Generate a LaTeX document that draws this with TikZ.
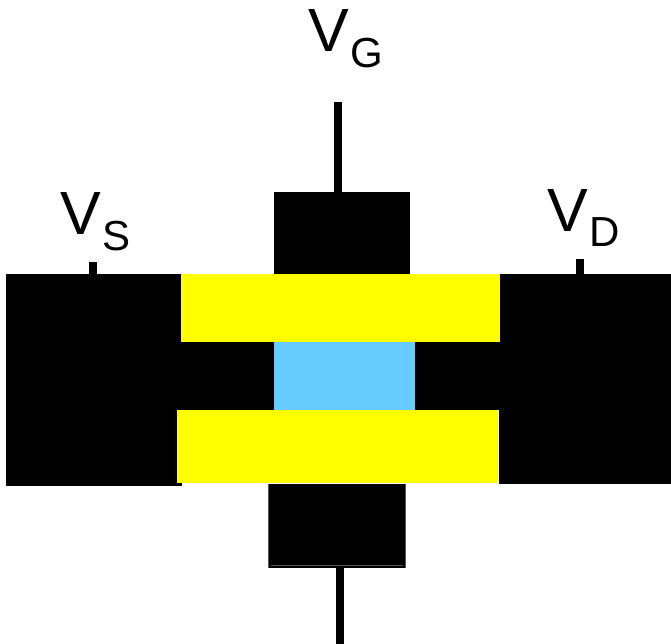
\documentclass[tikz,border=0pt]{standalone}
\usepackage{fontspec}
\setmainfont{Liberation Sans}
\definecolor{barcol}{RGB}{255,255,0}
\definecolor{chancol}{RGB}{102,204,255}
\definecolor{edgecol}{RGB}{85,85,85}
\tikzset{
  blk/.style={fill=black,draw=none},
  lbl/.style={inner sep=0pt,font=\fontsize{61pt}{61pt}\selectfont,anchor=base west}
}
\newcommand{\lowsub}[1]{\kern1.5pt{\fontsize{42pt}{42pt}\selectfont\raisebox{-16pt}{#1}}}
\begin{document}
\begin{tikzpicture}[x=1pt,y=-1pt]
\useasboundingbox (0,0) rectangle (671,644);
% electrodes
\fill[blk] (6,274) rectangle (671,484);
\fill[blk] (6,484) rectangle (182,486);
\fill[blk] (274,192) rectangle (410,274);
\fill[blk] (268,484) rectangle (406,568);
\fill[edgecol] (271,565) rectangle (403,566);
\fill[edgecol] (268.3,484) rectangle (269,568);
\fill[edgecol] (405,484) rectangle (405.7,568);
% wires
\fill[blk] (334,102) rectangle (342,192);
\fill[blk] (336,568) rectangle (344,644);
\fill[blk] (89,262) rectangle (97,274);
\fill[blk] (576,259) rectangle (584,274);
% layers
\fill[white] (182,483) rectangle (499,484);
\fill[white] (498,410) rectangle (499,484);
\fill[barcol] (181,274) rectangle (500,342);
\fill[barcol] (177,410) rectangle (498,483);
\fill[chancol] (274,342) rectangle (415,410);
% labels
\node[lbl] (vg) at (308,52) {V\lowsub{G}};
\node[lbl] (vs) at (60,234) {V\lowsub{S}};
\node[lbl] (vd) at (547,231) {V\lowsub{D}};
\end{tikzpicture}
\end{document}
